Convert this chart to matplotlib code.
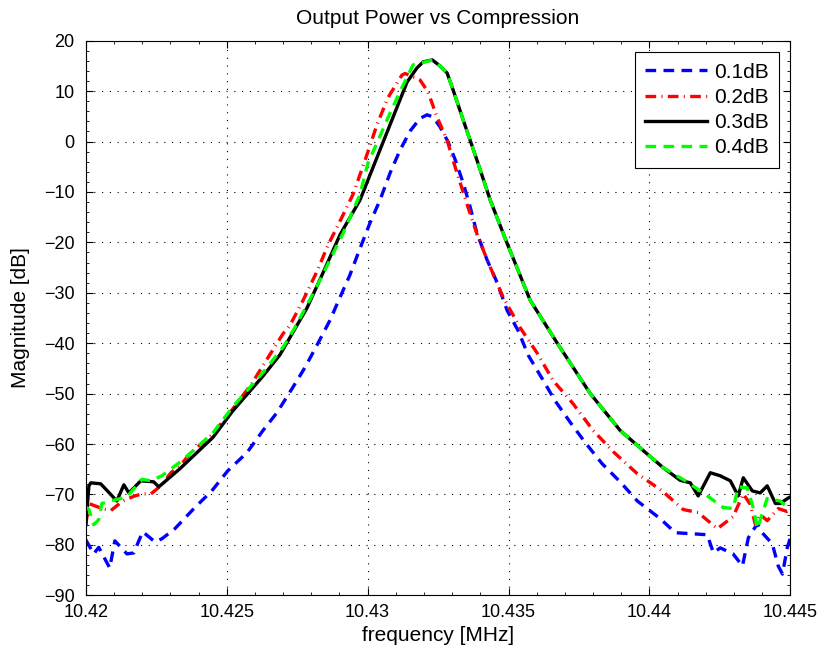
import matplotlib
matplotlib.use("Agg")
import matplotlib.pyplot as plt
from matplotlib.ticker import AutoMinorLocator

plt.rcParams["font.family"] = ["Liberation Sans", "DejaVu Sans"]

# 0.1dB compression
freq_01 = [10.42000, 10.42028, 10.42046, 10.42085, 10.42103, 10.42146, 10.42170, 10.42202,
           10.42245, 10.42270, 10.42316, 10.42387, 10.42447, 10.42504, 10.42572, 10.42629,
           10.42678, 10.42732, 10.42778, 10.42824, 10.42866, 10.42902, 10.42937, 10.42973,
           10.43008, 10.43044, 10.43080, 10.43115, 10.43151, 10.43186, 10.43211, 10.43232,
           10.43257, 10.43285, 10.43310, 10.43339, 10.43364, 10.43388, 10.43424, 10.43459,
           10.43495, 10.43534, 10.43570, 10.43619, 10.43665, 10.43719, 10.43772, 10.43832,
           10.43896, 10.43957, 10.44038, 10.44092, 10.44152, 10.44205, 10.44227, 10.44251,
           10.44297, 10.44330, 10.44351, 10.44383, 10.44400, 10.44436, 10.44457, 10.44472,
           10.44489, 10.44500]
mag_01 = [-79.0, -81.8, -80.5, -84.6, -79.2, -81.8, -81.6, -77.4,
          -79.4, -78.8, -76.8, -72.6, -69.3, -65.3, -61.7, -57.3,
          -53.8, -49.0, -44.8, -40.0, -35.5, -30.9, -26.5, -21.2,
          -16.2, -11.6, -6.2, -1.7, 2.1, 4.6, 5.3, 4.9,
          2.9, 0.0, -3.5, -8.2, -13.0, -18.2, -23.5, -27.9,
          -33.5, -37.5, -42.4, -47.0, -51.4, -55.7, -59.7, -63.9,
          -67.5, -71.3, -74.8, -77.6, -77.8, -78.0, -81.6, -80.6,
          -81.8, -84.2, -78.6, -75.8, -77.6, -79.8, -84.2, -85.8,
          -80.6, -78.6]

# 0.2dB compression
freq_02 = [10.42000, 10.42011, 10.42057, 10.42089, 10.42131, 10.42174, 10.42199, 10.42231,
           10.42266, 10.42302, 10.42341, 10.42369, 10.42451, 10.42522, 10.42589, 10.42700,
           10.42724, 10.42771, 10.42820, 10.42859, 10.42909, 10.42948, 10.42991, 10.43033,
           10.43072, 10.43122, 10.43133, 10.43186, 10.43214, 10.43246, 10.43282, 10.43303,
           10.43356, 10.43392, 10.43435, 10.43481, 10.43541, 10.43602, 10.43658, 10.43729,
           10.43800, 10.43871, 10.43957, 10.44045, 10.44120, 10.44173, 10.44241, 10.44297,
           10.44333, 10.44358, 10.44376, 10.44393, 10.44418, 10.44457, 10.44489, 10.44500]
mag_02 = [-76.0, -71.8, -72.8, -73.2, -71.3, -70.3, -69.9, -69.9,
          -68.3, -65.7, -63.9, -61.9, -58.0, -53.0, -48.0, -38.1,
          -36.5, -31.5, -25.8, -20.6, -15.0, -10.5, -3.7, 3.3,
          8.7, 13.2, 13.5, 12.2, 9.9, 4.9, 0.3, -3.7,
          -13.0, -19.0, -24.9, -30.9, -36.9, -42.0, -47.4, -52.0,
          -57.3, -61.5, -65.9, -69.3, -73.0, -73.6, -76.8, -74.4,
          -69.9, -72.0, -76.0, -74.0, -75.2, -72.8, -73.4, -73.2]

# 0.3dB compression
freq_03 = [10.42000, 10.42011, 10.42018, 10.42053, 10.42080, 10.42110, 10.42135, 10.42153,
           10.42195, 10.42241, 10.42259, 10.42334, 10.42451, 10.42522, 10.42629, 10.42689,
           10.42785, 10.42842, 10.42902, 10.42973, 10.43060, 10.43140, 10.43175, 10.43197,
           10.43229, 10.43257, 10.43282, 10.43303, 10.43339, 10.43388, 10.43435, 10.43495,
           10.43577, 10.43673, 10.43790, 10.43896, 10.43978, 10.44049, 10.44109, 10.44145,
           10.44173, 10.44216, 10.44251, 10.44287, 10.44315, 10.44333, 10.44365, 10.44393,
           10.44418, 10.44447, 10.44464, 10.44493, 10.44500]
mag_03 = [-76.0, -68.3, -67.7, -67.9, -69.5, -71.3, -68.1, -69.7,
          -67.3, -67.5, -68.5, -64.9, -58.7, -53.4, -46.5, -42.3,
          -33.0, -26.0, -18.5, -11.6, 0.6, 11.8, 14.6, 15.8,
          16.2, 15.0, 13.6, 10.3, 4.3, -3.7, -11.6, -20.2,
          -31.5, -40.0, -50.0, -57.3, -61.3, -64.7, -67.2, -67.7,
          -70.3, -65.7, -66.3, -67.3, -70.3, -66.7, -69.3, -69.7,
          -68.3, -71.8, -71.8, -70.7, -70.5]

# 0.4dB compression
freq_04 = [10.42000, 10.42011, 10.42028, 10.42046, 10.42057, 10.42089, 10.42146, 10.42199,
           10.42231, 10.42270, 10.42341, 10.42451, 10.42522, 10.42629, 10.42700, 10.42742,
           10.42788, 10.42831, 10.42866, 10.42913, 10.42973, 10.43001, 10.43033, 10.43080,
           10.43115, 10.43161, 10.43232, 10.43257, 10.43282, 10.43303, 10.43339, 10.43388,
           10.43435, 10.43495, 10.43577, 10.43673, 10.43790, 10.43896, 10.43978, 10.44049,
           10.44127, 10.44191, 10.44262, 10.44297, 10.44315, 10.44347, 10.44369, 10.44383,
           10.44404, 10.44418, 10.44464, 10.44493, 10.44500]
mag_04 = [-72.5, -73.0, -76.0, -75.0, -71.8, -71.3, -70.5, -67.0,
          -67.3, -66.3, -63.3, -57.8, -52.6, -45.8, -40.8, -36.9,
          -32.1, -27.5, -23.5, -18.2, -10.5, -4.3, -0.3, 5.7,
          9.9, 15.2, 16.2, 15.0, 13.6, 10.3, 4.3, -3.7,
          -11.6, -20.2, -31.5, -40.0, -50.0, -57.3, -61.3, -64.7,
          -67.3, -69.7, -72.6, -72.8, -68.5, -68.7, -72.8, -76.8,
          -73.2, -70.8, -71.3, -72.7, -72.8]

series_labels = ["0.1dB", "0.2dB", "0.3dB", "0.4dB"]
xtick_vals = [10.42, 10.425, 10.43, 10.435, 10.44, 10.445]
xtick_labels = ["10.42", "10.425", "10.43", "10.435", "10.44", "10.445"]

fig = plt.figure(figsize=(8.25, 6.57), dpi=100)
ax = fig.add_axes([0.104, 0.094, 0.854, 0.844])

lw = 2.4
ax.plot(freq_01, mag_01, color="#0000ff", lw=lw, dashes=(3.2, 2.2), label=series_labels[0])
ax.plot(freq_02, mag_02, color="#ff0000", lw=lw, dashes=(3.2, 1.6, 0.3, 1.6), label=series_labels[1])
ax.plot(freq_03, mag_03, color="#000000", lw=lw, label=series_labels[2])
ax.plot(freq_04, mag_04, color="#00ff00", lw=lw, dashes=(3.2, 2.2), label=series_labels[3])

ax.set_xlim(10.42, 10.445)
ax.set_ylim(-90, 20)
ax.set_xticks(xtick_vals)
ax.set_xticklabels(xtick_labels)
ax.set_yticks(range(-90, 21, 10))
ax.xaxis.set_minor_locator(AutoMinorLocator(5))
ax.yaxis.set_minor_locator(AutoMinorLocator(5))
ax.tick_params(which="both", direction="in", top=True, right=True, labelsize=13)
ax.tick_params(axis="y", which="major", pad=8)
ax.tick_params(axis="x", which="major", pad=6)
ax.tick_params(which="major", length=5)
ax.tick_params(which="minor", length=2.5)
ax.grid(True, which="major", color="k", linestyle=(0, (1, 6)), linewidth=0.8)

ax.set_title("Output Power vs Compression", fontsize=15, pad=12)
ax.set_xlabel("frequency [MHz]", fontsize=15, labelpad=4)
ax.set_ylabel("Magnitude [dB]", fontsize=15, labelpad=10)

leg = ax.legend(loc="upper right", fontsize=15, handlelength=3.0, handletextpad=0.3,
                fancybox=False, edgecolor="k", framealpha=1, borderaxespad=0.55,
                labelspacing=0.3, borderpad=0.5)
leg.get_frame().set_linewidth(0.8)

fig.savefig("out.png", dpi=100)
